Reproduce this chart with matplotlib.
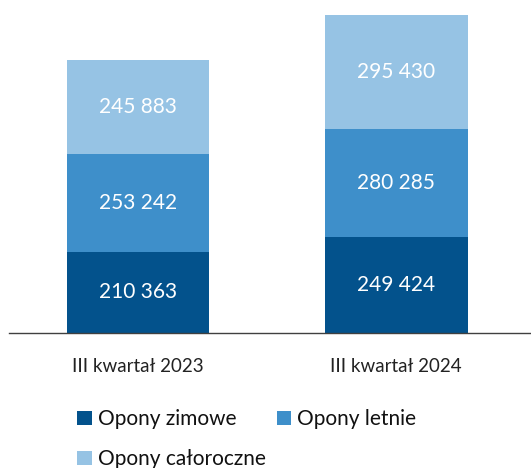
import matplotlib.pyplot as plt
from matplotlib.patches import Patch

quarters = ['III kwartał 2023', 'III kwartał 2024']
series = ['Opony zimowe', 'Opony letnie', 'Opony całoroczne']
zimowe = [210363, 249424]
letnie = [253242, 280285]
caloroczne = [245883, 295430]
colors = ['#03528C', '#3E8FCA', '#96C3E4']

plt.rcParams['font.family'] = ['Lato', 'DejaVu Sans']

fig = plt.figure(figsize=(5.31, 4.68), dpi=100)
ax = fig.add_axes([9 / 531, 135 / 468, 522 / 531, 333 / 468])

x = [0, 1]
bottom = [0, 0]
for vals, col in zip([zimowe, letnie, caloroczne], colors):
    bars = ax.bar(x, vals, width=0.554, bottom=bottom, color=col)
    for b, v, bt in zip(bars, vals, bottom):
        label = f'{v:,}'.replace(',', ' ')
        ax.text(b.get_x() + b.get_width() / 2, bt + v / 2, label,
                ha='center', va='center', color='white', fontsize=15)
    bottom = [a + b for a, b in zip(bottom, vals)]

ax.set_xlim(-0.5, 1.523)
ax.set_ylim(0, 864000)
for s in ['top', 'right', 'left']:
    ax.spines[s].set_visible(False)
ax.spines['bottom'].set_color('#404040')
ax.spines['bottom'].set_linewidth(1)
ax.set_yticks([])
ax.set_xticks(x)
ax.set_xticklabels(quarters, fontsize=13.5, color='#222222')
ax.tick_params(axis='x', length=0, pad=18)

# legend fills row by row in the reference, matplotlib fills by column
order = [0, 2, 1]
handles = [Patch(facecolor=colors[i], edgecolor='none') for i in order]
labels = [series[i] for i in order]
fig.legend(handles, labels, loc='upper left', bbox_to_anchor=(67 / 531, 1 - 399 / 468),
           ncol=2, frameon=False, fontsize=15, handlelength=0.7, handleheight=0.7,
           handletextpad=0.3, columnspacing=0.5, labelspacing=0.95, borderpad=0,
           labelcolor='#111111')

fig.savefig('out.png', dpi=100)
